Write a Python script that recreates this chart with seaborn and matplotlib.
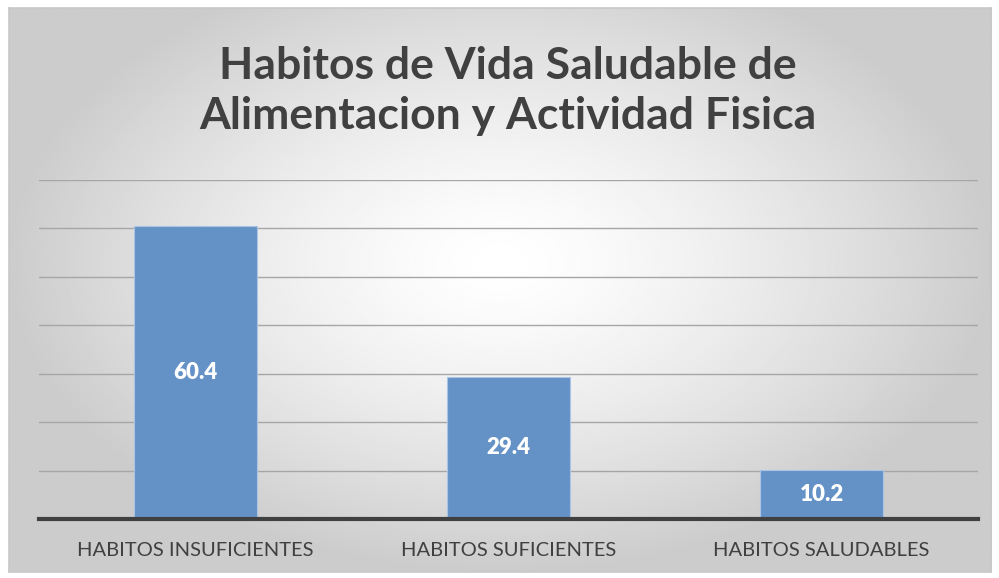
import numpy as np
import matplotlib
matplotlib.use("Agg")
import matplotlib.pyplot as plt
import seaborn as sns
import pandas as pd

categorias = ["HABITOS INSUFICIENTES", "HABITOS SUFICIENTES", "HABITOS SALUDABLES"]
porcentajes = [60.4, 29.4, 10.2]
etiquetas = ["60.4", "29.4", "10.2"]

sns.set_style("white")
plt.rcParams['font.family'] = ['Lato', 'DejaVu Sans']

df = pd.DataFrame({"categoria": categorias, "valor": porcentajes})

fig = plt.figure(figsize=(9.99, 5.78), dpi=100)
W, H = 999, 578

# Background panel with a soft radial gradient (white center, gray edges)
bg = fig.add_axes([9 / W, 1 - 572 / H, 982 / W, 564 / H])
yy, xx = np.mgrid[-1:1:300j, -1:1:500j]
r = np.sqrt((xx / 1.0) ** 2 + ((yy + 0.1) / 1.1) ** 2)
shade = np.clip(1.0 - 0.2 * r ** 1.4, 0.8, 1.0)
bg.imshow(shade, cmap="gray", vmin=0, vmax=1, aspect="auto", extent=[0, 1, 0, 1])
bg.set_xticks([])
bg.set_yticks([])
for s in bg.spines.values():
    s.set_color("#c8c8c8")
    s.set_linewidth(1.2)

ax = fig.add_axes([39 / W, 1 - 519 / H, 939 / W, 339 / H])
ax.patch.set_alpha(0)
sns.barplot(data=df, x="categoria", y="valor", color="#6592c6", width=0.396,
            edgecolor="#a9c4e4", linewidth=0.8, saturation=1, ax=ax)
ax.set_ylim(0, 70)
ax.set_xlim(-0.5, 2.5)
ax.set_yticks(range(0, 71, 10))
ax.yaxis.grid(True, color="#a6a6a6", linewidth=1)
ax.set_axisbelow(True)
ax.tick_params(axis="y", left=False, labelleft=False)
ax.tick_params(axis="x", bottom=False, labelsize=14.5, colors="#404040", pad=13)
ax.set_xlabel("")
ax.set_ylabel("")
for s in ["top", "right", "left"]:
    ax.spines[s].set_visible(False)
ax.spines["bottom"].set_color("#404040")
ax.spines["bottom"].set_linewidth(3)

ax.bar_label(ax.containers[0], labels=etiquetas, label_type="center",
             color="white", fontsize=16, fontweight="heavy")

fig.text(508 / W, 1 - 91 / H, "Habitos de Vida Saludable de\nAlimentacion y Actividad Fisica",
         ha="center", va="center", fontsize=32, fontweight="bold", color="#404040",
         linespacing=1.3)

fig.savefig("out.png", dpi=100)
